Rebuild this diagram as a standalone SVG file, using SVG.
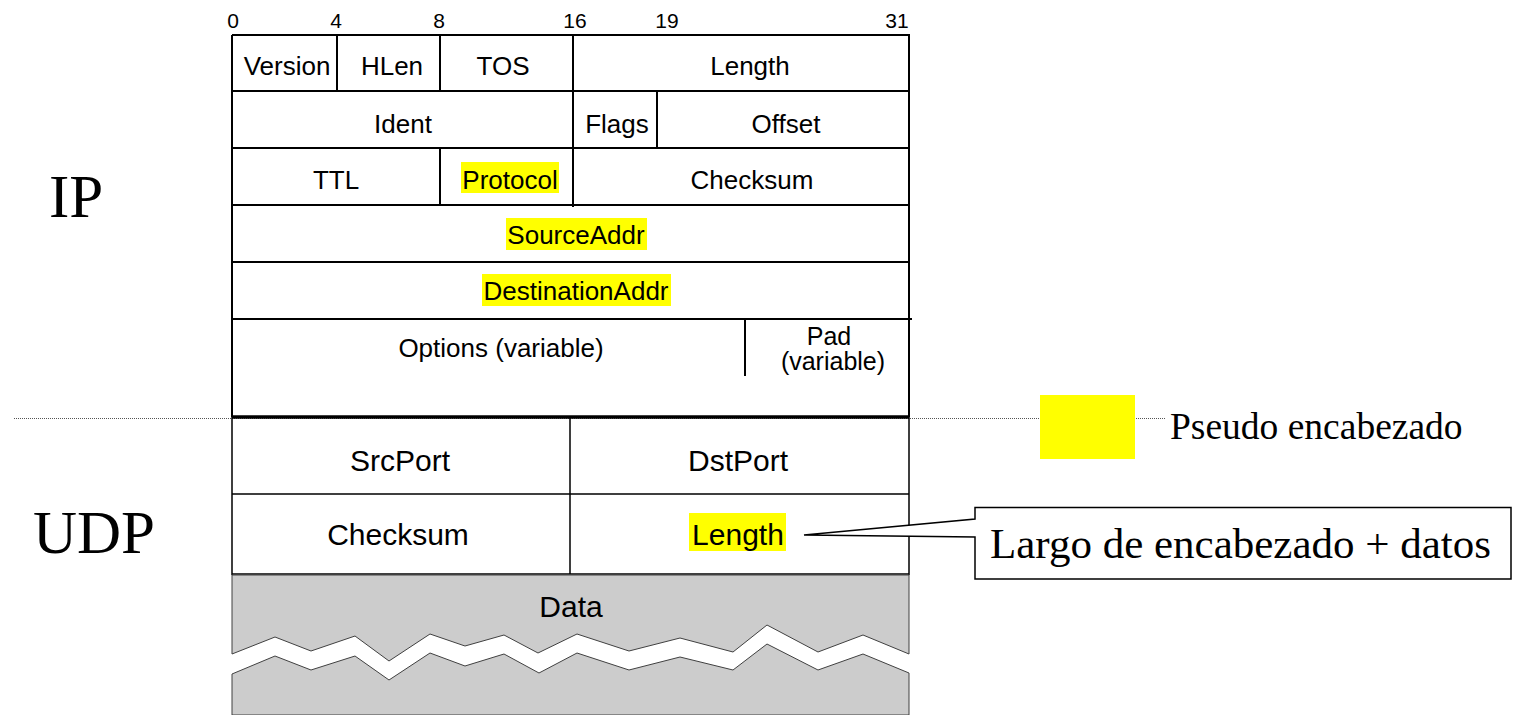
<svg xmlns="http://www.w3.org/2000/svg" width="1517" height="715" viewBox="0 0 1517 715">
<style>
.f{font-family:"Liberation Sans",Arial,sans-serif;fill:#000;text-anchor:middle}
.s{font-size:26px}
.p{font-size:25px}
.u{font-size:30px}
.n{font-size:21px}
.t{font-family:"Liberation Serif","Times New Roman",serif;fill:#000}
.ln{stroke:#000;stroke-width:2;fill:none}
.hl{fill:#FFFF00}
.zz{fill:#CCCCCC;stroke:#404040;stroke-width:1}
</style>
<rect width="1517" height="715" fill="#fff"/>

<g id="bit-numbers">
<text class="f n" x="233" y="28">0</text>
<text class="f n" x="336" y="28">4</text>
<text class="f n" x="439" y="28">8</text>
<text class="f n" x="575" y="28">16</text>
<text class="f n" x="667" y="28">19</text>
<text class="f n" x="897" y="28">31</text>
</g>

<g id="side-labels">
<text class="t" x="49" y="217" font-size="61">IP</text>
<text class="t" x="33" y="553" font-size="61">UDP</text>
</g>

<g id="connectors">
<line x1="14" y1="418.5" x2="1166" y2="418.5" stroke="#555" stroke-width="1" stroke-dasharray="1,1"/>
</g>

<g id="legend">
<rect class="hl" x="1040" y="395" width="95" height="64"/>
<text class="t" x="1170" y="439" font-size="37.5">Pseudo encabezado</text>
</g>

<g id="ip-header">
<rect x="232" y="35" width="677" height="382" fill="#fff"/>
<rect class="hl" x="461" y="162" width="98" height="31"/>
<rect class="hl" x="506" y="218" width="141" height="32"/>
<rect class="hl" x="482" y="274" width="189" height="32"/>
<path class="ln" d="M232,35 H909 V417 M232,35 V417 M232,91 H909 M232,148 H909 M232,205 H909 M232,262 H909 M232,319 H912"/>
<path class="ln" d="M337,35 V91 M440,35 V91 M573,35 V148 M657,91 V148 M440,148 V205 M573,148 V207 M745,319 V376"/>
<line x1="232" y1="417" x2="909" y2="417" stroke="#000" stroke-width="3.5"/>
<text class="f s" x="287" y="75">Version</text>
<text class="f s" x="392" y="75">HLen</text>
<text class="f s" x="503" y="75">TOS</text>
<text class="f s" x="750" y="75">Length</text>
<text class="f s" x="403" y="133">Ident</text>
<text class="f s" x="617" y="133">Flags</text>
<text class="f s" x="786" y="133">Offset</text>
<text class="f s" x="336" y="189">TTL</text>
<text class="f s" x="510" y="189">Protocol</text>
<text class="f s" x="752" y="189">Checksum</text>
<text class="f s" x="576" y="244">SourceAddr</text>
<text class="f s" x="576" y="300">DestinationAddr</text>
<text class="f s" x="501" y="357">Options (variable)</text>
<text class="f p" x="829" y="345">Pad</text>
<text class="f p" x="833" y="370">(variable)</text>
</g>

<g id="udp-header">
<rect class="hl" x="689" y="513" width="97" height="38"/>
<path d="M232,417 V575 M909,417 V575 M232,494 H909 M232,574 H909 M570,417 V574" stroke="#000" stroke-width="1.5" fill="none"/>
<text class="f u" x="400" y="471">SrcPort</text>
<text class="f u" x="738" y="471">DstPort</text>
<text class="f u" x="398" y="545">Checksum</text>
<text class="f u" x="738" y="545">Length</text>
</g>

<g id="data">
<path class="zz" d="M232,575 H909 V654 L863,635 L818,652 L767,625 L733,652 L680,638 L629,651 L577,634 L538,653 L504,635 L465,646 L430,634 L389,661 L355,636 L311,651 L275,637 L232,654 Z"/>
<path class="zz" d="M232,674 L275,656 L311,670 L355,656 L389,680 L430,653 L465,666 L504,654 L539,673 L577,653 L629,670 L680,657 L733,670 L767,644 L818,670 L863,654 L909,673 V715 H232 Z"/>
<text class="f u" x="571" y="617">Data</text>
</g>

<g id="callout">
<path d="M975,507.5 H1511 V579 H975 V537 L804,535 L975,519 Z" fill="#fff" stroke="#000" stroke-width="1.5"/>
<text class="t" x="990" y="558" font-size="43">Largo de encabezado + datos</text>
</g>
</svg>
